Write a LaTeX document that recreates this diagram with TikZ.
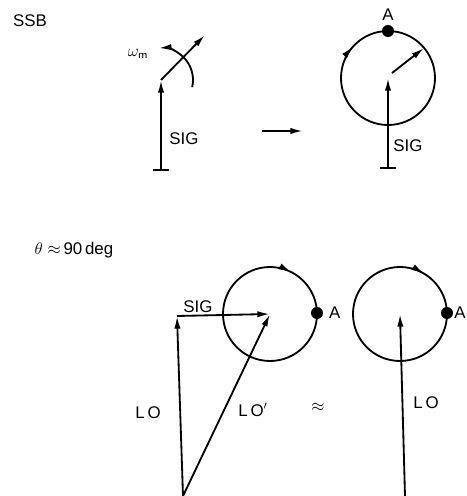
\documentclass[tikz,border=0pt]{standalone}
\usepackage{amsmath, amssymb}
\usepackage{fontspec}
\setmainfont{Liberation Sans}
\usepackage{tikz}
\usetikzlibrary{arrows.meta, positioning}

\begin{document}
\begin{tikzpicture}[
    x=0.025cm, y=0.025cm,
    vec/.style={-{Latex[length=9pt, width=4.5pt]}, line width=1.3pt},
    wheel/.style={line width=1.3pt},
    lbl/.style={font=\fontsize{12}{14}\selectfont, inner sep=1pt},
    pointA/.style={circle, fill=black, inner sep=0pt, minimum size=0.3cm}
  ]
  \useasboundingbox (0,0) rectangle (467,496);

  % ── Upper part: single sideband ──────────────────────────────
  \node[lbl] (ssb) at (30,475) {SSB};

  \coordinate (s0) at (161,326);
  \coordinate (s1) at (161,416);
  \coordinate (s2) at (205,461);
  \draw[line width=1.3pt] ([xshift=-6]s0) -- ([xshift=6]s0);
  \draw[vec] (s0) -- (s1);
  \draw[vec] (s1) -- (s2);
  \draw[vec] (s1) ++(-13:32) arc[start angle=-13, end angle=94, radius=32];
  \node[lbl] (wm) at (138,442) {$\omega_{\mathsf{m}}$};
  \node[lbl] (sig1) at (184,357) {SIG};

  \coordinate (a1) at (262,365);
  \coordinate (a2) at (303,365);
  \draw[vec] (a1) -- (a2);

  \coordinate (c1) at (388,418);
  \coordinate (t0) at (388,328);
  \coordinate (r0) at (392,423);
  \coordinate (r1) at (424,448);
  \draw[wheel] (c1) circle[radius=47];
  \draw[vec] (c1) ++(155:47) arc[start angle=155, end angle=138, radius=47];
  \node[pointA] (A1) at (388,465) {};
  \node[lbl, above=2pt of A1] (labA1) {A};
  \draw[line width=1.3pt] ([xshift=-6]t0) -- ([xshift=6]t0);
  \draw[vec] (t0) -- (c1);
  \draw[vec] (r0) -- (r1);
  \node[lbl] (sig2) at (408,350) {SIG};

  % ── Lower part: theta about 90 deg ───────────────────────────
  \node[lbl] (theta) at (74,246) {$\theta \approx$\,90\,deg};

  \coordinate (c2) at (270,182);
  \coordinate (b1) at (183,0);
  \coordinate (l1) at (177,180);
  \draw[wheel] (c2) circle[radius=47];
  \draw[vec] (c2) ++(80:47) arc[start angle=80, end angle=63, radius=47];
  \node[pointA] (A2) at (317,183) {};
  \node[lbl, right=3pt of A2] (labA2) {A};
  \draw[vec] (b1) -- (l1);
  \draw[vec] (l1) -- (c2);
  \draw[vec] (b1) -- (c2);
  \node[lbl] (sig3) at (198,189) {SIG};
  \node[lbl] (lo1) at (148,83) {L\,O};
  \node[lbl] (lo2) at (253,86) {L\,O$'$};
  \node[lbl] (approx) at (318,89) {$\approx$};

  \coordinate (c3) at (400,182);
  \coordinate (b2) at (405,0);
  \draw[wheel] (c3) circle[radius=47];
  \draw[vec] (c3) ++(76:47) arc[start angle=76, end angle=59, radius=47];
  \node[pointA] (A3) at (447,183) {};
  \node[lbl, right=0pt of A3, inner sep=0.5pt] (labA3) {A};
  \draw[vec] (b2) -- (c3);
  \node[lbl] (lo3) at (426,93) {L\,O};

\end{tikzpicture}
\end{document}
